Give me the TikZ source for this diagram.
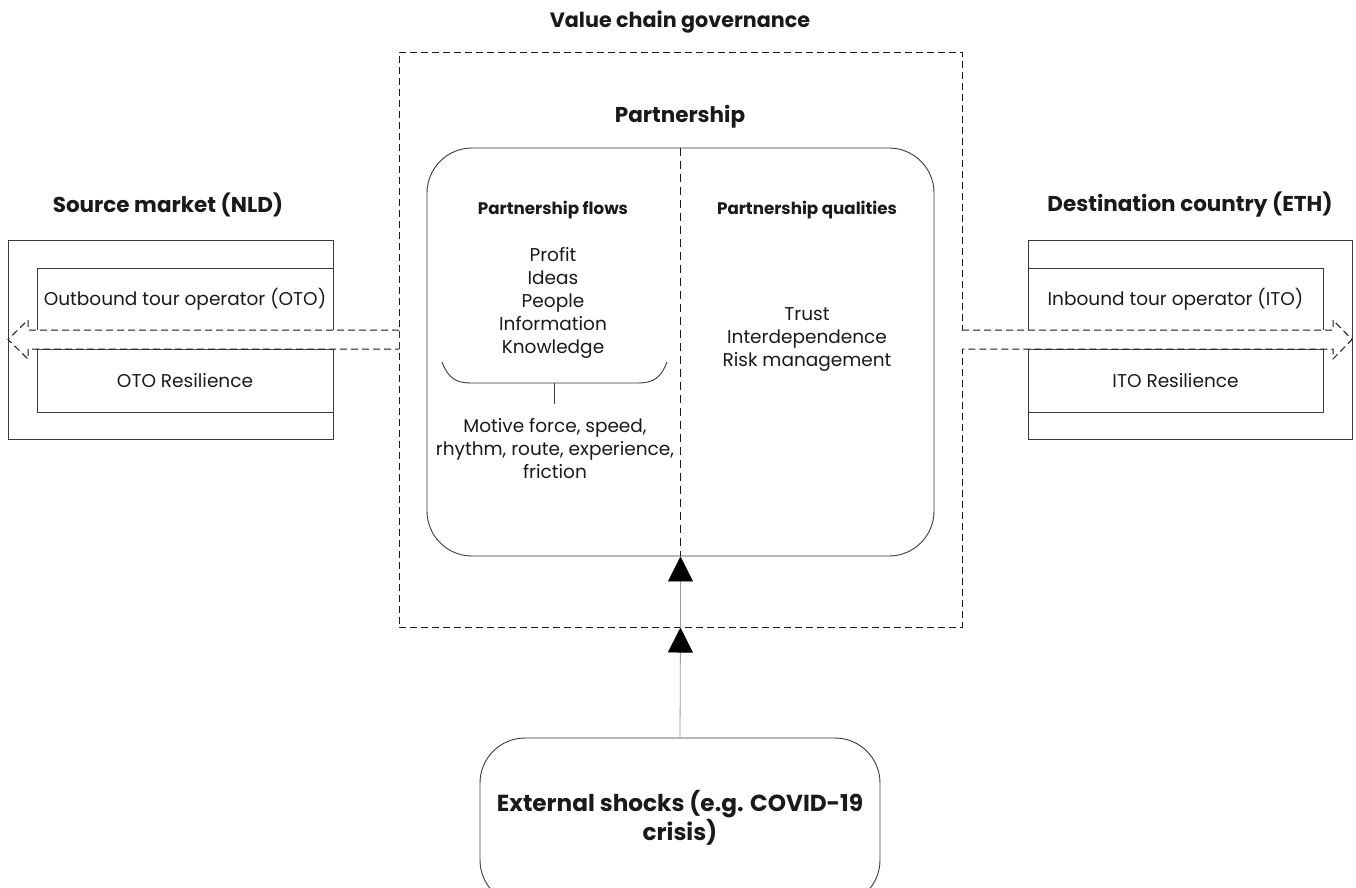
\documentclass[tikz,border=0pt]{standalone}
\usepackage{fontspec}
\setmainfont{Poppins}
\usetikzlibrary{arrows.meta}
\definecolor{ink}{HTML}{1A1A1A}
\definecolor{edge}{HTML}{3A3A3A}
\definecolor{shaft}{HTML}{9A9A9A}

\begin{document}
\begin{tikzpicture}[x=1pt,y=-1pt,
  txt/.style={font=\fontsize{18.5}{23}\selectfont, text=ink, align=center, inner sep=0pt},
  head/.style={font=\fontsize{21.5}{27}\selectfont\bfseries, text=ink, align=center, inner sep=0pt},
  subhead/.style={font=\fontsize{16.7}{20}\selectfont\bfseries, text=ink, inner sep=0pt},
  box/.style={draw=edge, line width=0.9pt, inner sep=0pt},
  gdash/.style={draw=ink, line width=1pt, dash pattern=on 7pt off 4pt},
  divider/.style={draw=ink, line width=1.3pt, dash pattern=on 8pt off 5pt},
  shockline/.style={draw=shaft, line width=0.8pt, -{Triangle[length=25pt,width=25pt,black]}}
]
\fill[white] (0,0) rectangle (1356,887);
\useasboundingbox (0,0) rectangle (1356,887);

% value chain governance frame
\node[gdash, inner sep=0pt, minimum width=563pt, minimum height=575pt] (gov) at (680.5,339.5) {};
\node[head, font=\fontsize{20.7}{26}\selectfont\bfseries] (govtitle) at (680,22) {Value chain governance};

% partnership block
\node[box, rounded corners=45pt, minimum width=507pt, minimum height=408pt] (part) at (680.5,352) {};
\node[head] (parttitle) at (680,117) {Partnership};
\draw[divider] (part.north) -- (part.south);

\node[subhead] (flows) at (553,210) {Partnership flows};
\node[subhead] (quals) at (807,210) {Partnership qualities};

\node[txt] (flowlist) at (553,303) {Profit\\Ideas\\People\\Information\\Knowledge};
\node[txt] (quallist) at (807,340) {Trust\\Interdependence\\Risk management};

% bracket under the flow list
\coordinate (brL) at (442,362);
\coordinate (brR) at (667,362);
\coordinate (brM) at (554,383);
\coordinate (brT) at (554,404);
\draw[edge, line width=0.9pt] (brL) .. controls (448,378) and (456,383) .. (471,383)
  -- (638,383) .. controls (653,383) and (661,378) .. (brR);
\draw[edge, line width=0.9pt] (brM) -- (brT);
\node[txt] (motive) at (555,449) {Motive force, speed,\\rhythm, route, experience,\\friction};

% source market
\node[head] (srctitle) at (168,205) {Source market (NLD)};
\node[box, minimum width=325pt, minimum height=199pt] (src) at (170.5,339.5) {};
\node[box, minimum width=296pt, minimum height=62pt] (oto) at (185,299) {};
\node[txt] (ototxt) at (oto.center) {Outbound tour operator (OTO)};
\node[box, minimum width=296pt, minimum height=63pt] (otor) at (185,380.5) {};
\node[txt] (otortxt) at (otor.center) {OTO Resilience};

% destination country
\node[head] (dsttitle) at (1190,205) {Destination country (ETH)};
\node[box, minimum width=324pt, minimum height=199pt] (dst) at (1190,339.5) {};
\node[box, minimum width=295pt, minimum height=62pt] (ito) at (1175.5,299) {};
\node[txt] (itotxt) at (ito.center) {Inbound tour operator (ITO)};
\node[box, minimum width=295pt, minimum height=63pt] (itor) at (1175.5,380.5) {};
\node[txt] (itortxt) at (itor.center) {ITO Resilience};

% hollow dashed arrows leaving the governance frame
\draw[gdash, fill=white] (399,330) -- (28,330) -- (28,320) -- (8,339.5) -- (28,359) -- (28,349) -- (399,349);
\draw[gdash, fill=white] (962,330) -- (1333,330) -- (1333,320) -- (1352,339.5) -- (1333,359) -- (1333,349) -- (962,349);

% external shocks
\node[box, rounded corners=45pt, minimum width=400pt, minimum height=167pt] (shock) at (680,821.5) {};
\node[head, font=\fontsize{23.2}{27}\selectfont\bfseries] (shocktxt) at (680,818) {External shocks (e.g. COVID-19\\crisis)};

\draw[shockline] (shock.north) -- (gov.south);
\draw[shockline] (gov.south) -- (part.south);
\end{tikzpicture}
\end{document}
